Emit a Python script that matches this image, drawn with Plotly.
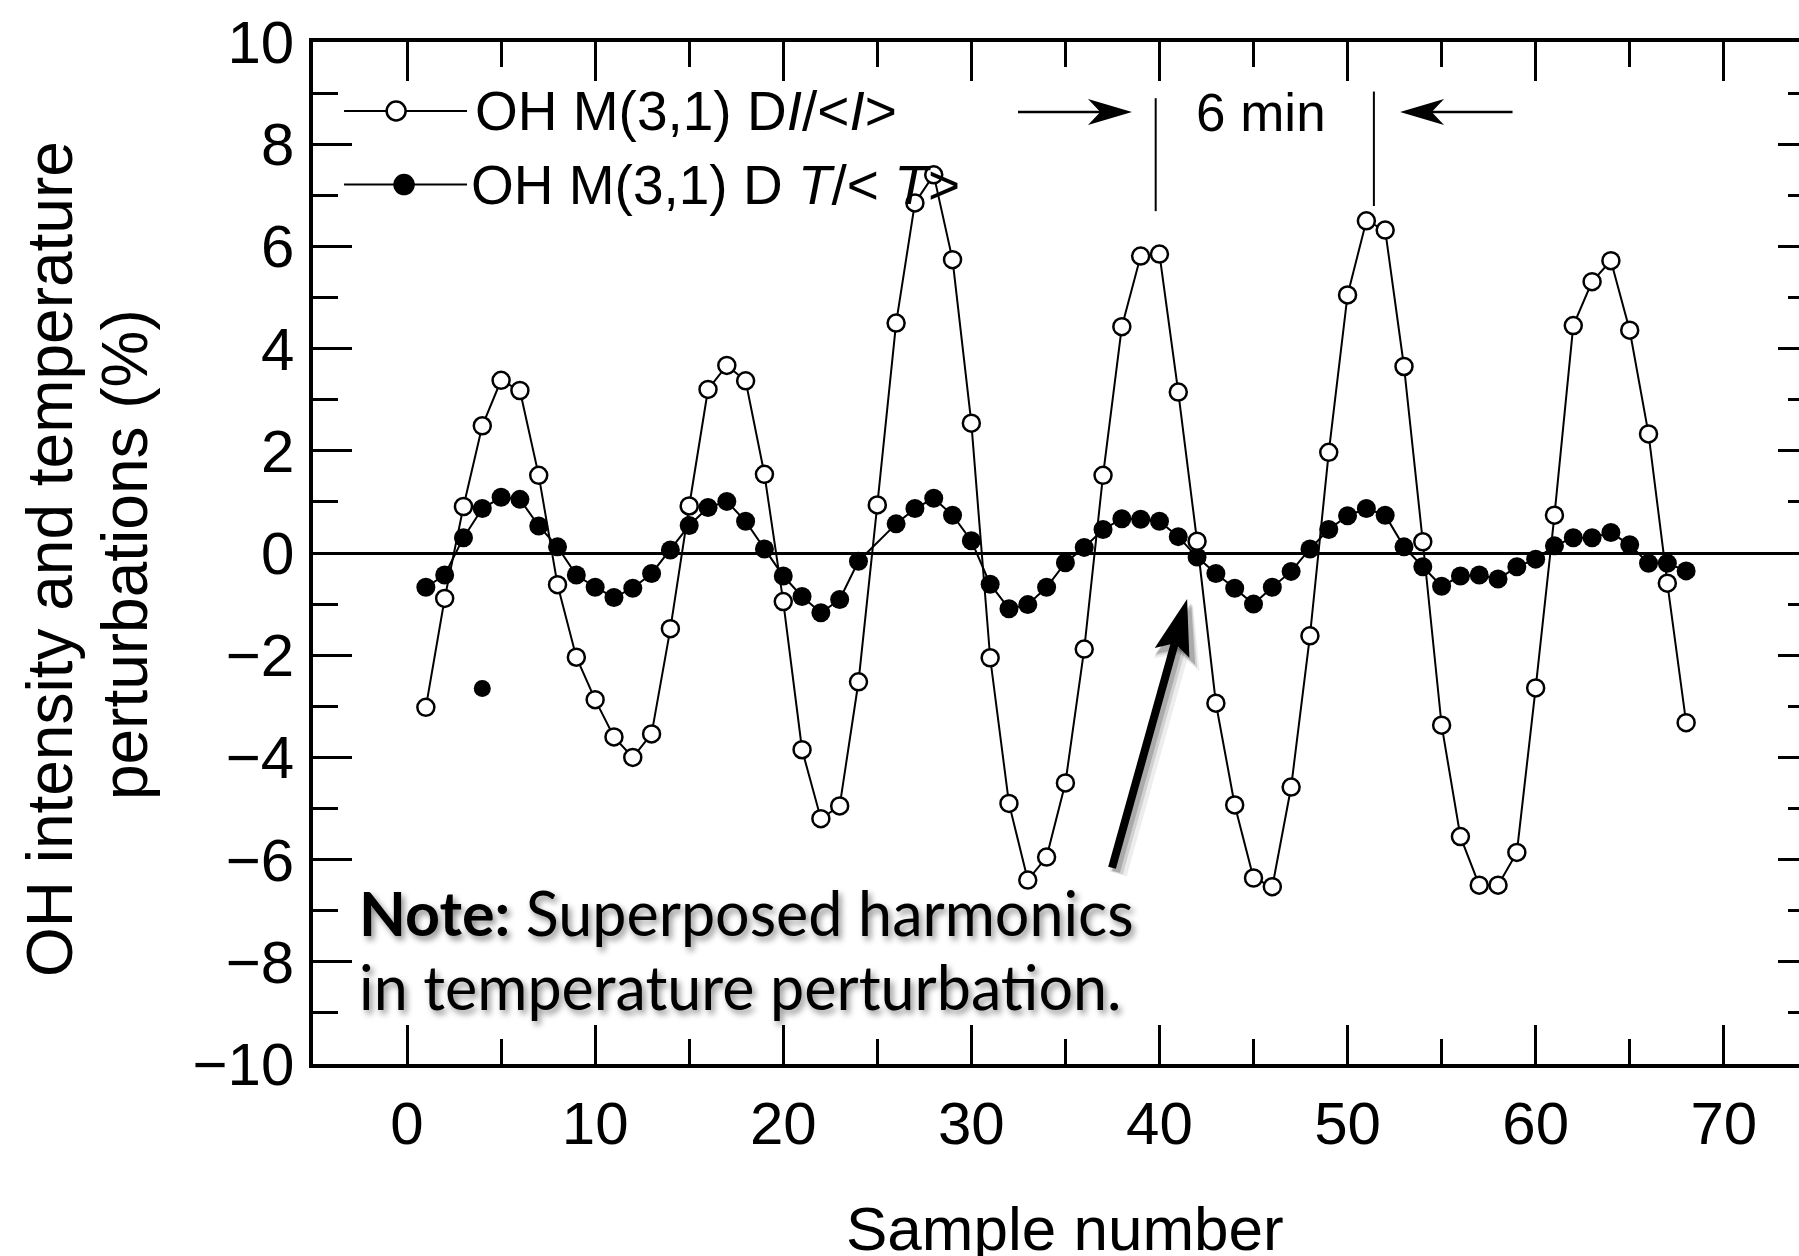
import math
import plotly.graph_objects as go

# ---------------- data ----------------
samples = list(range(1, 69))

intensity_pct = [
    -3.02, -0.89, 0.91, 2.49, 3.38, 3.18, 1.52, -0.62, -2.04, -2.87,
    -3.60, -4.00, -3.54, -1.48, 0.92, 3.20, 3.67, 3.37, 1.54, -0.95,
    -3.85, -5.20, -4.95, -2.52, 0.94, 4.50, 6.85, 7.40, 5.74, 2.54,
    -2.05, -4.90, -6.40, -5.95, -4.50, -1.88, 1.52, 4.43, 5.81, 5.85,
    3.15, 0.23, -2.94, -4.93, -6.36, -6.53, -4.58, -1.62, 1.97, 5.05,
    6.50, 6.32, 3.65, 0.22, -3.37, -5.55, -6.50, -6.50, -5.86, -2.64,
    0.74, 4.45, 5.31, 5.72, 4.36, 2.33, -0.59, -3.32,
]

temperature_pct = [
    -0.67, -0.43, 0.30, 0.87, 1.09, 1.05, 0.53, 0.12, -0.43, -0.67,
    -0.87, -0.69, -0.40, 0.06, 0.54, 0.89, 1.01, 0.62, 0.08, -0.45,
    -0.85, -1.17, -0.91, -0.16, None, 0.57, 0.87, 1.07, 0.74, 0.24,
    -0.61, -1.09, -1.01, -0.67, -0.19, 0.11, 0.46, 0.67, 0.66, 0.62,
    0.32, -0.08, -0.40, -0.69, -1.00, -0.67, -0.36, 0.08, 0.46, 0.73,
    0.87, 0.74, 0.12, -0.27, -0.65, -0.45, -0.43, -0.51, -0.27, -0.12,
    0.14, 0.30, 0.30, 0.40, 0.16, -0.20, -0.20, -0.35,
]

outlier_sample = [4]
outlier_temperature = [-2.65]

x_ticks = [0, 10, 20, 30, 40, 50, 60, 70]
y_ticks = [-10, -8, -6, -4, -2, 0, 2, 4, 6, 8, 10]

legend_labels = [
    "OH M(3,1) D<i>I</i>/&lt;<i>I</i>&gt;",
    "OH M(3,1) D <i>T</i>/&lt; <i>T</i>&gt;",
]

# ---------------- figure ----------------
SANS = "Liberation Sans, Arial, Helvetica, sans-serif"
BLACK = "black"

X_RANGE = [-5, 74.0]
Y_RANGE = [-10, 10]
PX_PER_X = 18.81   # pixels per x unit (plot area 1486 px / 79 units)
PX_PER_Y = 51.1    # pixels per y unit (plot area 1022 px / 20 units)

fig = go.Figure()

fig.add_trace(go.Scatter(
    x=samples, y=temperature_pct, mode="lines+markers", connectgaps=True,
    name=legend_labels[1],
    line=dict(color=BLACK, width=2),
    marker=dict(symbol="circle", size=19, color=BLACK),
    cliponaxis=False,
))
fig.add_trace(go.Scatter(
    x=samples, y=intensity_pct, mode="lines+markers",
    name=legend_labels[0],
    line=dict(color=BLACK, width=2),
    marker=dict(symbol="circle", size=17, color="white",
                line=dict(color=BLACK, width=2.5)),
    cliponaxis=False,
))
fig.add_trace(go.Scatter(
    x=outlier_sample, y=outlier_temperature, mode="markers", yaxis="y2",
    marker=dict(symbol="circle", size=17, color=BLACK), showlegend=False,
))

tick_common = dict(ticks="inside", tickcolor=BLACK, tickwidth=2.5,
                   showgrid=False)

fig.update_layout(
    width=1799, height=1256,
    margin=dict(l=313, r=0, t=42, b=192, pad=0),
    paper_bgcolor="white", plot_bgcolor="white",
    showlegend=False,
    font=dict(family=SANS, color=BLACK, size=60),
    xaxis=dict(
        range=X_RANGE, tickvals=x_ticks, showline=True, linecolor=BLACK,
        linewidth=3.5, mirror="ticks", ticklen=39, zeroline=False,
        tickfont=dict(family=SANS, size=60, color=BLACK),
        ticklabelstandoff=4,
        minor=dict(ticks="inside", ticklen=25, tickwidth=2.5,
                   tickcolor=BLACK, dtick=5, tick0=0, showgrid=False),
        **tick_common,
    ),
    yaxis=dict(
        range=Y_RANGE, tickvals=y_ticks, showline=True, linecolor=BLACK,
        linewidth=3.5, mirror=False, ticklen=39,
        zeroline=True, zerolinecolor=BLACK, zerolinewidth=2.5,
        tickfont=dict(family=SANS, size=60, color=BLACK),
        ticklabelstandoff=3,
        minor=dict(ticks="inside", ticklen=25, tickwidth=2.5,
                   tickcolor=BLACK, dtick=1, tick0=0, showgrid=False),
        **tick_common,
    ),
    yaxis2=dict(
        range=Y_RANGE, overlaying="y", side="right", anchor="free",
        position=1, showline=False, ticklen=21, tickvals=y_ticks,
        showticklabels=False, zeroline=False,
        minor=dict(ticks="inside", ticklen=11, tickwidth=2.5,
                   tickcolor=BLACK, dtick=1, tick0=0, showgrid=False),
        **tick_common,
    ),
)

shapes = []
annotations = []

# ---- legend (drawn by hand so the sample line is long like the original) ----
legend_rows = [
    dict(y=8.65, mark_x=-0.58, text_x=3.5, fill="white", size=9.5, label=legend_labels[0]),
    dict(y=7.21, mark_x=-0.16, text_x=3.3, fill=BLACK, size=9.5, label=legend_labels[1]),
]
for row in legend_rows:
    shapes.append(dict(type="line", xref="x", yref="y", x0=-3.35, x1=3.19,
                       y0=row["y"], y1=row["y"],
                       line=dict(color=BLACK, width=2)))
    r = row["size"]
    shapes.append(dict(type="circle", xref="x", yref="y",
                       xsizemode="pixel", ysizemode="pixel",
                       xanchor=row["mark_x"], yanchor=row["y"],
                       x0=-r, x1=r, y0=-r, y1=r,
                       fillcolor=row["fill"], line=dict(color=BLACK, width=2.5)))
    annotations.append(dict(x=row["text_x"], y=row["y"], xref="x", yref="y",
                            text=row["label"], showarrow=False,
                            xanchor="left", yanchor="middle",
                            font=dict(family=SANS, size=55, color=BLACK)))

# ---- "6 min" period marker ----
shapes.append(dict(type="line", xref="x", yref="y", x0=39.8, x1=39.8,
                   y0=6.69, y1=8.9, line=dict(color=BLACK, width=2)))
shapes.append(dict(type="line", xref="x", yref="y", x0=51.4, x1=51.4,
                   y0=6.79, y1=9.03, line=dict(color=BLACK, width=2)))
annotations.append(dict(x=45.4, y=8.62, xref="x", yref="y", text="6 min",
                        showarrow=False, xanchor="center", yanchor="middle",
                        font=dict(family=SANS, size=53, color=BLACK)))


def arrow_head(tip_x, tip_y, ux, uy, length, half_w, notch, color):
    """Stealth arrow head; (ux, uy) is the pointing direction in pixels, y up."""
    px, py = -uy, ux
    pts = [
        (0.0, 0.0),
        (-length * ux + half_w * px, -length * uy + half_w * py),
        (-notch * length * ux, -notch * length * uy),
        (-length * ux - half_w * px, -length * uy - half_w * py),
    ]
    path = "M " + " L ".join(f"{a:.2f},{b:.2f}" for a, b in pts) + " Z"
    return dict(type="path", xref="x", yref="y", xsizemode="pixel",
                ysizemode="pixel", xanchor=tip_x, yanchor=tip_y, path=path,
                fillcolor=color, line=dict(width=0))


# left arrow (pointing right)
y_arrow = 8.63
shapes.append(dict(type="line", xref="x", yref="y", x0=32.48, x1=38.54 - 30 / PX_PER_X,
                   y0=y_arrow, y1=y_arrow, line=dict(color=BLACK, width=2.5)))
shapes.append(arrow_head(38.54, y_arrow, 1, 0, 44, 13, 0.72, BLACK))
# right arrow (pointing left)
shapes.append(dict(type="line", xref="x", yref="y", x0=58.77, x1=52.79 + 30 / PX_PER_X,
                   y0=y_arrow, y1=y_arrow, line=dict(color=BLACK, width=2.5)))
shapes.append(arrow_head(52.79, y_arrow, -1, 0, 44, 13, 0.72, BLACK))

# ---- big arrow pointing at the temperature curve ----
tail = (37.48, -6.16)
tip = (41.47, -0.90)
dxp = (tip[0] - tail[0]) * PX_PER_X
dyp = (tip[1] - tail[1]) * PX_PER_Y
norm = math.hypot(dxp, dyp)
ux, uy = dxp / norm, dyp / norm
head_len, head_half, notch = 56, 18, 0.82
shaft_end = (tip[0] - notch * head_len * ux / PX_PER_X,
             tip[1] - notch * head_len * uy / PX_PER_Y)

# soft shadow
for off, width, alpha in [((6, -6), 18, 0.07), ((5, -5), 12, 0.12), ((4, -4), 8, 0.18)]:
    ox, oy = off[0] / PX_PER_X, off[1] / PX_PER_Y
    col = f"rgba(0,0,0,{alpha})"
    shapes.append(dict(type="line", xref="x", yref="y",
                       x0=tail[0] + ox, y0=tail[1] + oy,
                       x1=shaft_end[0] + ox, y1=shaft_end[1] + oy,
                       line=dict(color=col, width=width), layer="below"))
    shapes.append(arrow_head(tip[0] + ox, tip[1] + oy, ux, uy,
                             head_len + width / 3, head_half + width / 3, notch, col))
shapes.append(dict(type="line", xref="x", yref="y",
                   x0=tail[0], y0=tail[1], x1=shaft_end[0], y1=shaft_end[1],
                   line=dict(color=BLACK, width=8)))
shapes.append(arrow_head(tip[0], tip[1], ux, uy, head_len, head_half, notch, BLACK))

# ---- note text ----
NOTE_FONT = "Lato, 'Gill Sans', 'Noto Sans', sans-serif"
note_shadow = "3px 4px 6px rgba(0,0,0,0.45)"
annotations.append(dict(x=-2.66, y=-7.035, xref="x", yref="y",
                        text="<b>Note:</b> Superposed harmonics",
                        showarrow=False, xanchor="left", yanchor="middle",
                        font=dict(family=NOTE_FONT, size=61, color=BLACK,
                                  shadow=note_shadow)))
annotations.append(dict(x=-2.66, y=-8.485, xref="x", yref="y",
                        text="in temperature perturbation.",
                        showarrow=False, xanchor="left", yanchor="middle",
                        font=dict(family=NOTE_FONT, size=61, color=BLACK,
                                  shadow=note_shadow)))

# ---- axis titles ----
annotations.append(dict(x=35, y=-0.1605, xref="x", yref="paper",
                        text="Sample number", showarrow=False,
                        xanchor="center", yanchor="middle",
                        font=dict(family=SANS, size=62, color=BLACK)))
annotations.append(dict(x=-0.177, y=0.494, xref="paper", yref="paper",
                        text="OH intensity and temperature", textangle=-90,
                        showarrow=False, xanchor="center", yanchor="middle",
                        font=dict(family=SANS, size=64, color=BLACK)))
annotations.append(dict(x=-0.1265, y=0.498, xref="paper", yref="paper",
                        text="perturbations (%)", textangle=-90,
                        showarrow=False, xanchor="center", yanchor="middle",
                        font=dict(family=SANS, size=64, color=BLACK)))

# ---- credit line, cut off at the bottom edge as in the original ----
annotations.append(dict(x=-0.2106, y=-0.2094, xref="paper", yref="paper",
                        text="<b>Courtesy of W.R.Pendleton]</b>", showarrow=False,
                        xanchor="left", yanchor="middle",
                        font=dict(family="DejaVu Sans Mono, monospace", size=43,
                                  color=BLACK)))

fig.update_layout(shapes=shapes, annotations=annotations)

fig.write_html("out.html")
